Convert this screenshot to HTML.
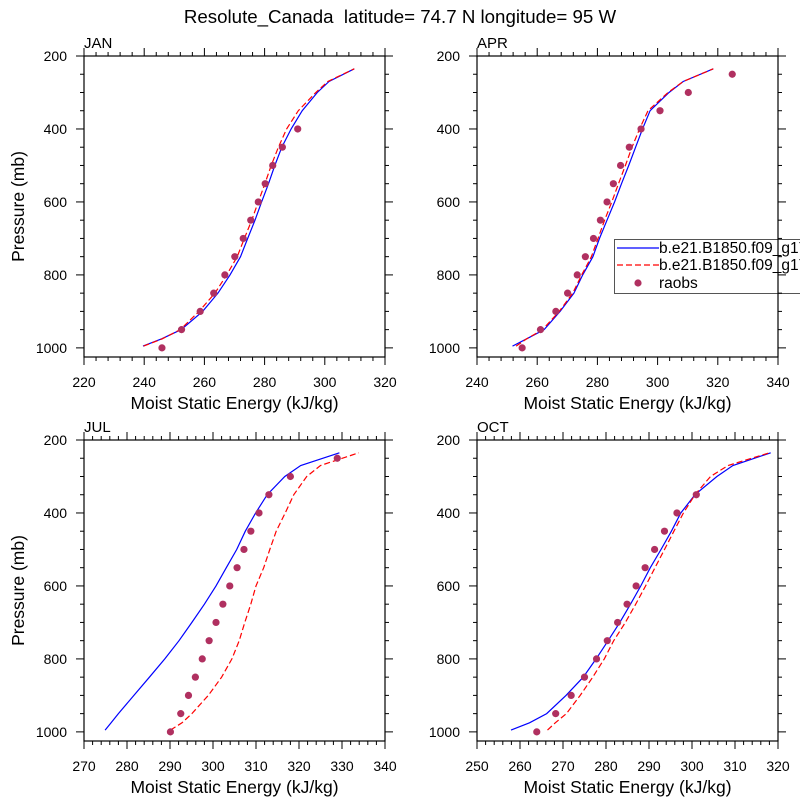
<!DOCTYPE html>
<html><head><meta charset="utf-8"><style>
body{margin:0;background:#fff}
svg{display:block;font-family:"Liberation Sans",sans-serif}
</style></head><body>
<svg id="c" width="800" height="800" viewBox="0 0 800 800">
<text x="400" y="23" font-size="18.7" text-anchor="middle">Resolute_Canada&#160; latitude= 74.7 N longitude= 95 W</text>
</svg>
<script>
const levels = [995,975,950,900,850,800,750,700,650,600,550,500,450,400,350,300,270,235];
const obsLevels = [1000,950,900,850,800,750,700,650,600,550,500,450,400,350,300,250];
const janBlue = [239.6,245.8,252.3,259.4,264.5,268.5,272,274.4,276.8,279,281.3,283.4,285.7,288.8,292.5,297.5,301.4,309.8];
const janRed  = [239.8,246,252,258.2,263.5,267.4,270.9,273.3,275.7,277.9,280.1,282.2,284.6,287.3,291.2,297,301,309.8];
const janObs  = [245.9,252.4,258.6,263.1,266.8,270.1,272.9,275.4,277.9,280.2,282.7,285.9,291,null,null,null];
const aprBlue = [251.8,256.5,262.3,267.6,272.2,275.1,278.5,280.7,283.2,285.7,288,290.4,292.7,295,297.5,303.8,308.5,318.5];
const aprRed  = [253,256.5,261.8,267.3,271.8,274.8,278,280.2,282.4,284.8,287,289.3,291.5,294,296.8,303.5,308.5,318.5];
const aprObs  = [255,261.1,266.2,270.1,273.3,276,278.7,281,283.2,285.3,287.7,290.6,294.5,300.8,310.2,324.8];
const julBlue = [274.9,276.3,278.0,281.6,285.2,288.8,292.1,295.1,298,300.7,303.1,305.5,307.5,309.9,312.6,316.7,320.4,329.4];
const julRed  = [290.1,292.8,295.1,298.9,302,304.4,306.1,307.4,308.8,310,311.8,313.2,314.7,316.8,318.8,321.8,325,333.9];
const julObs  = [290.1,292.5,294.3,295.9,297.5,299.1,300.7,302.3,303.9,305.6,307.2,308.8,310.7,313,318,328.9];
const octBlue = [257.9,262.2,266.2,270.7,274.7,277.7,280.5,283.2,285.7,288.1,290.3,292.8,295.2,297.4,300.7,305.8,309.5,318.3];
const octRed  = [266.4,268.2,270.8,274,276.9,279.6,281.8,284.5,286.9,289.2,291.4,293.6,295.8,298,300.7,304.3,308.4,318];
const octObs  = [263.9,268.3,271.9,275,277.8,280.3,282.7,284.9,287,289.1,291.3,293.6,296.5,301,null,null];
const yTicks = [200,400,600,800,1000];

const NS="http://www.w3.org/2000/svg";
const svg=document.getElementById('c');
function mk(tag,attrs,parent){const e=document.createElementNS(NS,tag);for(const k in attrs)e.setAttribute(k,attrs[k]);(parent||svg).appendChild(e);return e;}

const panels=[
 {name:'jan',label:'JAN',x0:84,y0:56,xmin:220,xmax:320,major:20,minor:4,blue:janBlue,red:janRed,obs:janObs},
 {name:'apr',label:'APR',x0:477,y0:56,xmin:240,xmax:340,major:20,minor:4,blue:aprBlue,red:aprRed,obs:aprObs,legend:true},
 {name:'jul',label:'JUL',x0:84,y0:440,xmin:270,xmax:340,major:10,minor:2,blue:julBlue,red:julRed,obs:julObs},
 {name:'oct',label:'OCT',x0:477,y0:440,xmin:250,xmax:320,major:10,minor:2,blue:octBlue,red:octRed,obs:octObs}
];
const W=301,H=301,PMIN=200,PMAX=1025;

panels.forEach((P,pi)=>{
 const g=mk('g',{});
 
 
 const xs=v=>P.x0+(v-P.xmin)/(P.xmax-P.xmin)*W;
 const ys=p=>P.y0+(p-PMIN)/(PMAX-PMIN)*H;
 const clipId='clip'+pi;
 const cp=mk('clipPath',{id:clipId},g);mk('rect',{x:P.x0,y:P.y0,width:W,height:H},cp);
 const lbl=mk('text',{x:P.x0,y:P.y0-8,'font-size':15},g);lbl.textContent=P.label;
 
 
 const line=(arr,col,dash,nm)=>{
   let d='';arr.forEach((v,i)=>{d+=(i?'L':'M')+xs(v).toFixed(1)+','+ys(levels[i]).toFixed(1);});
   const a={d:d,fill:'none',stroke:col,'stroke-width':1.2,'clip-path':'url(#'+clipId+')'};
   if(dash)a['stroke-dasharray']=dash;
   const e=mk('path',a,g);
   
   
 };
 line(P.blue,'#0000ff',null,'model-line-1-'+P.name);
 line(P.red,'#ff0000','6 3','model-line-2-'+P.name);
 P.obs.forEach((v,i)=>{if(v==null)return;
   const c=mk('circle',{cx:xs(v),cy:ys(obsLevels[i]),r:3.6,fill:'#b03060'},g);
   
   
 });
 if(P.legend){
   const lg=mk('g',{},g);
   
   
   mk('rect',{x:614.5,y:239.5,width:200,height:54,fill:'#fff',stroke:'#555','stroke-width':1},lg);
   mk('line',{x1:617,y1:248,x2:659,y2:248,stroke:'#0000ff','stroke-width':1.2},lg);
   mk('line',{x1:617,y1:265,x2:659,y2:265,stroke:'#ff0000','stroke-width':1.2,'stroke-dasharray':'6 3'},lg);
   mk('circle',{cx:638,cy:283,r:3.6,fill:'#b03060'},lg);
   const t=['b.e21.B1850.f09_g17.CMIP6-piControl','b.e21.B1850.f09_g17.CMIP6-piControl','raobs'];
   [253,270,288].forEach((y,i)=>{const e=mk('text',{x:659,y:y,'font-size':15.5},lg);e.textContent=t[i];
     
     });
 }
 mk('rect',{x:P.x0,y:P.y0,width:W,height:H,fill:'none',stroke:'#000','stroke-width':1.2},g);
 for(let v=P.xmin;v<=P.xmax+1e-6;v+=P.minor){
   const x=xs(v);const maj=Math.abs(((v-P.xmin)%P.major))<1e-6;
   const L=maj?8:4;
   mk('line',{x1:x,y1:P.y0+H,x2:x,y2:P.y0+H+L,stroke:'#000','stroke-width':1},g);
   mk('line',{x1:x,y1:P.y0,x2:x,y2:P.y0-L,stroke:'#000','stroke-width':1},g);
   if(maj){const t=mk('text',{x:x,y:P.y0+H+30,'font-size':14,'text-anchor':'middle'},g);t.textContent=v;
     
     }
 }
 for(let p=200;p<=1000;p+=50){
   const y=ys(p);const maj=p%200===0;const L=maj?8:4;
   mk('line',{x1:P.x0,y1:y,x2:P.x0-L,y2:y,stroke:'#000','stroke-width':1},g);
   mk('line',{x1:P.x0+W,y1:y,x2:P.x0+W+L,y2:y,stroke:'#000','stroke-width':1},g);
 }
 yTicks.forEach(p=>{const t=mk('text',{x:P.x0-17,y:ys(p)+5,'font-size':14,'text-anchor':'end'},g);t.textContent=p;
   
   });
 const xt=mk('text',{x:P.x0+W/2,y:P.y0+H+52,'font-size':17.5,'text-anchor':'middle'},g);xt.textContent='Moist Static Energy (kJ/kg)';
 
 
 if(P.x0<200){const yt=mk('text',{x:0,y:0,'font-size':17.5,'text-anchor':'middle',transform:'translate(24,'+(P.y0+H/2)+') rotate(-90)'},g);yt.textContent='Pressure (mb)';
   
   }
});
</script>
</body></html>
